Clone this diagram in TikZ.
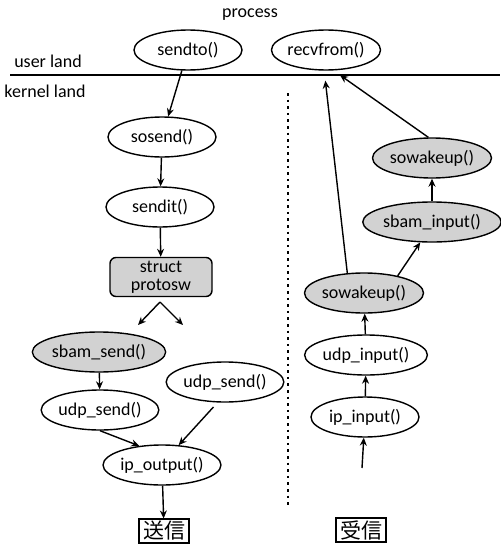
\documentclass[tikz,border=0pt]{standalone}
\usepackage{fontspec}
\setmainfont{Carlito}
\newfontfamily\jpfont{Noto Sans CJK JP}
\usetikzlibrary{shapes.geometric}
\usetikzlibrary{arrows.meta}

\begin{document}
\begin{tikzpicture}[x=0.5pt, y=-0.5pt, line width=0.7pt, >={Stealth[length=4pt,width=3.5pt]},
		every node/.style={font=\fontsize{9}{10}\selectfont},
		func/.style={draw, ellipse, inner sep=0pt, minimum width=54pt, minimum height=20pt},
		hot/.style={func, fill=gray!35},
		sidebox/.style={draw, line width=0.9pt, inner xsep=1.5pt, inner ysep=1pt, minimum width=25pt, minimum height=11pt, font=\jpfont\fontsize{10.5}{12}\selectfont}]
		\useasboundingbox (0,0) rectangle (500,546);
		% user / kernel border
		\node (proc) at (250,15) {process};
		\node (user) at (48,61) {user land};
		\node (kern) at (45,91) {kernel land};
		\coordinate (lineL) at (10,75);
		\coordinate (lineR) at (500,75);
		\draw[line width=1pt] (lineL) -- (lineR);
		\coordinate (dotT) at (288,93);
		\coordinate (dotB) at (288,507);
		\draw[dotted, line width=1.3pt] (dotT) -- (dotB);
		% send path
		\node[func] (sendto) at (188,50) {sendto()};
		\node[func] (sosend) at (162,137) {sosend()};
		\node[func] (sendit) at (160,207) {sendit()};
		\node[draw, rounded corners=3pt, fill=gray!35, minimum width=51pt, minimum height=19.5pt, inner sep=0pt, align=center, font=\fontsize{9}{9}\selectfont] (protosw) at (161,277) {struct\\protosw};
		\coordinate (fork) at (160,302);
		\coordinate (forkL) at (138,325);
		\coordinate (forkR) at (183,325);
		\node[hot] (sbamsend) at (99,352) {sbam\_send()};
		\node[func] (udpsendA) at (100,410) {udp\_send()};
		\node[func] (udpsendB) at (225,382) {udp\_send()};
		\node[func] (ipout) at (162,465) {ip\_output()};
		\node[sidebox] (send) at (164,531) {送信};
		\draw[->] (sendto) -- (sosend);
		\draw[->] (sosend) -- (sendit);
		\draw[->] (sendit) -- (protosw);
		\draw[->] (fork) -- (forkL);
		\draw[->] (fork) -- (forkR);
		\draw[->] (sbamsend) -- (udpsendA);
		\draw[->] (udpsendA.south) -- (ipout.140);
		\draw[->, shorten <=3pt] (udpsendB.250) -- (ipout.50);
		\draw[->] (ipout) -- (send);
		% receive path
		\node[func] (recvfrom) at (326,50) {recvfrom()};
		\node[hot] (wakeB) at (432,158) {sowakeup()};
		\node[hot] (sbamin) at (432,222) {sbam\_input()};
		\node[hot] (wakeA) at (364,293) {sowakeup()};
		\node[func] (udpin) at (366,355) {udp\_input()};
		\node[func] (ipin) at (365,417) {ip\_input()};
		\node[sidebox] (recv) at (361,530) {受信};
		\coordinate (inflow) at (362,468);
		\draw[->] (inflow) -- (ipin);
		\draw[->] (ipin) -- (udpin);
		\draw[->] (udpin) -- (wakeA);
		\draw[->] (wakeA.27) -- (sbamin.240);
		\draw[->] (sbamin) -- (wakeB);
		\draw[->, shorten >=4pt] (wakeB.100) -- (recvfrom.-70);
		\draw[->, shorten >=5pt] (wakeA.130) -- (recvfrom.-95);
	\end{tikzpicture}
\end{document}
